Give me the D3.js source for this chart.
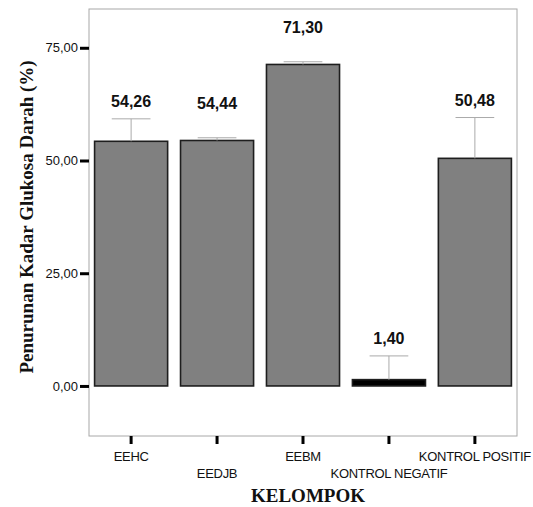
<!DOCTYPE html>
<html>
<head>
<meta charset="utf-8">
<script src="https://cdn.jsdelivr.net/npm/d3@7"></script>
<style>
  body { margin: 0; background: #fff; }
  svg { display: block; }
</style>
</head>
<body>
<svg id="chart" width="533" height="507"></svg>
<script>
// chart data
const groups = ['EEHC', 'EEDJB', 'EEBM', 'KONTROL NEGATIF', 'KONTROL POSITIF'];
const means = [54.26, 54.44, 71.30, 1.40, 50.48];
const errUp = [4.98, 0.6, 0.6, 5.26, 9.05];
const yTicks = [0, 25, 50, 75];

const svg = d3.select('#chart');
const plot = {left: 89, right: 517, top: 9, bottom: 436};

const x = d3.scaleBand()
  .domain(groups)
  .range([plot.left, plot.right])
  .paddingInner(0.15)
  .paddingOuter(0.065);
const y = d3.scaleLinear()
  .domain([-11.1, 83.6])
  .range([plot.bottom, plot.top]);

const fmt = v => d3.format('.2f')(v).replace('.', ',');

// frame round the plot
svg.append('rect')
  .attr('x', plot.left)
  .attr('y', plot.top)
  .attr('width', plot.right - plot.left)
  .attr('height', plot.bottom - plot.top)
  .attr('fill', 'none')
  .attr('stroke', '#a8a8a8')
  .attr('stroke-width', 1);

// y axis: ticks are short thick dashes outside the frame
const yAxis = svg.append('g').attr('transform', `translate(${plot.left},0)`)
  .call(d3.axisLeft(y).tickValues(yTicks).tickFormat(fmt).tickSize(9).tickPadding(2));
yAxis.select('.domain').remove();
yAxis.selectAll('.tick line').attr('stroke', '#000').attr('stroke-width', 3);
yAxis.selectAll('.tick text')
  .attr('font-family', 'Liberation Sans, Arial, sans-serif')
  .attr('font-size', 13)
  .attr('fill', '#111');

// x axis, labels staggered over two rows
const xAxis = svg.append('g').attr('transform', `translate(0,${plot.bottom})`)
  .call(d3.axisBottom(x).tickSize(8).tickFormat(''));
xAxis.select('.domain').remove();
xAxis.selectAll('.tick line').attr('stroke', '#000').attr('stroke-width', 3);

svg.append('g').selectAll('text')
  .data(groups)
  .join('text')
  .attr('x', d => x(d) + x.bandwidth() / 2)
  .attr('y', (d, i) => (i % 2 ? 478 : 461))
  .attr('text-anchor', 'middle')
  .attr('font-family', 'Liberation Sans, Arial, sans-serif')
  .attr('font-size', 13)
  .attr('letter-spacing', -0.3)
  .attr('fill', '#111')
  .text(d => d);

// bars
svg.append('g').selectAll('rect')
  .data(groups)
  .join('rect')
  .attr('x', d => x(d))
  .attr('width', x.bandwidth())
  .attr('y', (d, i) => y(means[i]))
  .attr('height', (d, i) => y(0) - y(means[i]))
  .attr('fill', (d, i) => (y(0) - y(means[i]) < 10 ? '#000' : '#808080'))
  .attr('stroke', '#1e1e1e')
  .attr('stroke-width', 1.6);

// error bars, upward only
const capW = x.bandwidth() * 0.53;
const err = svg.append('g').attr('stroke', '#aaa').attr('stroke-width', 1);
err.selectAll('line.v')
  .data(groups)
  .join('line')
  .attr('class', 'v')
  .attr('x1', d => x(d) + x.bandwidth() / 2)
  .attr('x2', d => x(d) + x.bandwidth() / 2)
  .attr('y1', (d, i) => y(means[i]))
  .attr('y2', (d, i) => y(means[i] + errUp[i]));
err.selectAll('line.c')
  .data(groups)
  .join('line')
  .attr('class', 'c')
  .attr('x1', d => x(d) + x.bandwidth() / 2 - capW / 2)
  .attr('x2', d => x(d) + x.bandwidth() / 2 + capW / 2)
  .attr('y1', (d, i) => y(means[i] + errUp[i]))
  .attr('y2', (d, i) => y(means[i] + errUp[i]));

// value labels above bar / whisker
svg.append('g').selectAll('text')
  .data(groups)
  .join('text')
  .attr('x', d => x(d) + x.bandwidth() / 2)
  .attr('y', (d, i) => Math.min(y(means[i] + errUp[i]) - 18, y(means[i]) - 37) + 6)
  .attr('text-anchor', 'middle')
  .attr('font-family', 'Liberation Sans, Arial, sans-serif')
  .attr('font-weight', 'bold')
  .attr('font-size', 16)
  .attr('fill', '#111')
  .text((d, i) => fmt(means[i]));

// axis titles
svg.append('text')
  .attr('x', 308)
  .attr('y', 502)
  .attr('text-anchor', 'middle')
  .attr('font-family', 'Liberation Serif, Times New Roman, serif')
  .attr('font-weight', 'bold')
  .attr('font-size', 19)
  .attr('fill', '#111')
  .text('KELOMPOK');

svg.append('text')
  .attr('transform', 'translate(33,217) rotate(-90)')
  .attr('text-anchor', 'middle')
  .attr('font-family', 'Liberation Serif, Times New Roman, serif')
  .attr('font-weight', 'bold')
  .attr('font-size', 19)
  .attr('fill', '#111')
  .text('Penurunan Kadar Glukosa Darah (%)');
</script>
</body>
</html>
